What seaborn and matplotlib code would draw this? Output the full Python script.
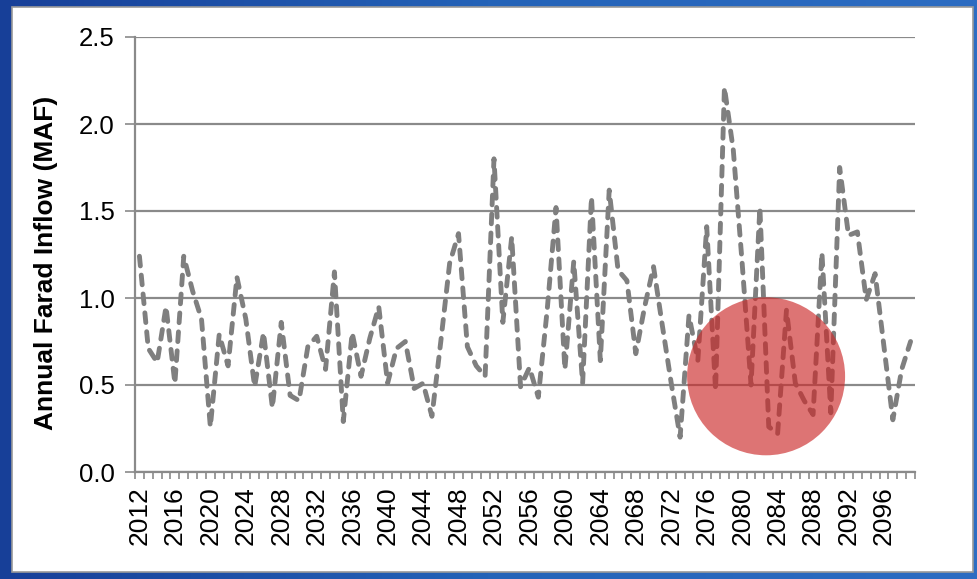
import numpy as np
import pandas as pd
import matplotlib
matplotlib.use("Agg")
import matplotlib.pyplot as plt
from matplotlib.patches import Rectangle, Ellipse
from matplotlib.colors import LinearSegmentedColormap
import seaborn as sns

# Annual inflow series, 2012-2099 (million acre-feet)
years = list(range(2012, 2100))
inflow = [
    1.24, 0.71, 0.63, 0.95, 0.51, 1.24, 1.04, 0.88, 0.26, 0.79,   # 2012-2021
    0.61, 1.12, 0.88, 0.49, 0.80, 0.37, 0.86, 0.44, 0.41, 0.72,   # 2022-2031
    0.78, 0.59, 1.15, 0.29, 0.80, 0.55, 0.77, 0.95, 0.51, 0.71,   # 2032-2041
    0.75, 0.48, 0.51, 0.32, 0.75, 1.20, 1.37, 0.72, 0.61, 0.55,   # 2042-2051
    1.80, 0.86, 1.35, 0.49, 0.60, 0.43, 0.93, 1.52, 0.59, 1.21,   # 2052-2061
    0.51, 1.58, 0.64, 1.62, 1.16, 1.10, 0.68, 0.95, 1.18, 0.84,   # 2062-2071
    0.51, 0.20, 0.90, 0.64, 1.41, 0.47, 2.21, 1.85, 1.20, 0.50,   # 2072-2081
    1.52, 0.26, 0.22, 0.93, 0.51, 0.41, 0.33, 1.26, 0.34, 1.75,   # 2082-2091
    1.36, 1.38, 0.99, 1.14, 0.72, 0.30, 0.59, 0.75,               # 2092-2099
]
label_years = list(range(2012, 2100, 4))
y_ticks = [0.0, 0.5, 1.0, 1.5, 2.0, 2.5]
y_label = "Annual Farad Inflow (MAF)"

df = pd.DataFrame({"year": years, "inflow": inflow})

sns.set_theme(style="white")
plt.rcParams["font.family"] = ["Liberation Sans", "DejaVu Sans"]

W, H = 977, 579
fig = plt.figure(figsize=(W / 100, H / 100), dpi=100)

# slide background: blue gradient with a white panel
bg = fig.add_axes([0, 0, 1, 1], zorder=-10)
grad = np.linspace(0, 1, 256).reshape(1, -1)
cmap = LinearSegmentedColormap.from_list("slide", ["#173f98", "#2463b8", "#2c6cc2"])
bg.imshow(grad, aspect="auto", cmap=cmap, extent=[0, 1, 0, 1])
bg.add_patch(Rectangle((12 / W, 7 / H), (973 - 12) / W, (572 - 7) / H,
                       facecolor="white", edgecolor="#9a9a9a", lw=1.2,
                       transform=bg.transAxes))
bg.set_xlim(0, 1)
bg.set_ylim(0, 1)
bg.axis("off")

left, right, bottom, top = 135, 915, 472, 37
ax = fig.add_axes([left / W, 1 - bottom / H, (right - left) / W, (bottom - top) / H])
ax.set_facecolor("none")

grey = "#8a8a8a"
sns.lineplot(data=df, x="year", y="inflow", ax=ax, color="#7f7f7f", lw=3.5,
             dashes=False, zorder=3)
line = ax.lines[-1]
line.set_dashes((2.0, 1.9))
line.set_dash_capstyle("round")
line.set_solid_capstyle("round")
line.set_dash_joinstyle("round")

ax.set_xlim(years[0] - 0.5, years[-1] + 0.5)
ax.set_ylim(0, 2.5)

ax.set_yticks(y_ticks)
ax.set_yticklabels([f"{v:.1f}" for v in y_ticks])
ax.set_xticks(label_years)
ax.set_xticklabels([str(y) for y in label_years], rotation=90)
ax.set_xticks(np.arange(years[0] - 0.5, years[-1] + 1.0, 1.0), minor=True)

ax.tick_params(axis="x", which="major", length=0, pad=10, labelsize=19, labelcolor="black")
ax.tick_params(axis="x", which="minor", length=5, width=1.2, color=grey, direction="out",
               bottom=True)
ax.tick_params(axis="y", which="major", length=7, width=1.2, color=grey, direction="out",
               pad=7.5, labelsize=18.5, labelcolor="black", left=True)

ax.yaxis.grid(True, color=grey, lw=1.6)
ax.set_axisbelow(True)
for side in ("top", "right"):
    ax.spines[side].set_visible(False)
for side in ("left", "bottom"):
    ax.spines[side].set_color(grey)
    ax.spines[side].set_linewidth(1.6)

ax.set_xlabel("")
ax.set_ylabel(y_label, fontsize=19, fontweight="bold", color="black")
ax.yaxis.set_label_coords(-0.099, 0.48)

# highlighted region
px_per_year = (right - left) / len(years)
px_per_unit = (bottom - top) / 2.5
r_px = 79
ax.add_patch(Ellipse((2082.7, 0.55), 2 * r_px / px_per_year, 2 * r_px / px_per_unit,
                     facecolor="#cc2a2a", alpha=0.65, edgecolor="none", zorder=4))

fig.savefig("out.png", dpi=100)
